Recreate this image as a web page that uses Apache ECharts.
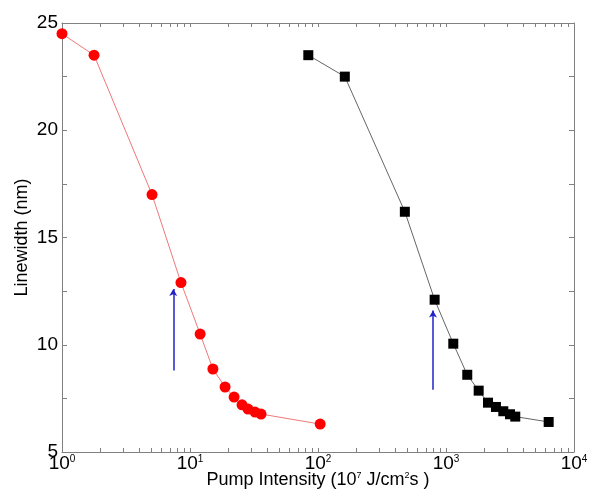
<!DOCTYPE html>
<html><head><meta charset="utf-8">
<script src="https://cdn.jsdelivr.net/npm/echarts@6/dist/echarts.min.js"></script>
<style>html,body{margin:0;padding:0;background:#fff}#c{width:590px;height:494px}</style>
</head><body><div id="c"></div>
<script>
var redX = [1, 1.78, 5.05, 8.5, 12.0, 15.1, 18.8, 22.1, 25.5, 28.4, 32.2, 35.9, 104];
var redY = [24.5, 23.5, 17.0, 12.9, 10.5, 8.87, 8.03, 7.56, 7.2, 7.0, 6.86, 6.77, 6.3];
var blackX = [84, 162, 477, 815, 1140, 1466, 1800, 2128, 2455, 2804, 3162, 3477, 6340];
var blackY = [23.5, 22.5, 16.2, 12.1, 10.05, 8.6, 7.86, 7.3, 7.1, 6.9, 6.76, 6.65, 6.4];
var arrow1 = {x: 7.4, y0: 8.8, y1: 12.6};
var arrow2 = {x: 791, y0: 7.9, y1: 11.6};
var xMajor = [1, 10, 100, 1000, 10000];
var yTicks = [5, 7.5, 10, 12.5, 15, 17.5, 20, 22.5, 25];

var xMinor = [];
for (var k = 0; k < 4; k++) for (var m = 1; m < 10; m++) xMinor.push(m * Math.pow(10, k));
xMinor.push(10000);

function pairs(xs, ys) { return xs.map(function (v, i) { return [v, ys[i]]; }); }
var font = 'Liberation Sans, Arial, Helvetica, sans-serif';
var axisCol = '#808080';

var chart = echarts.init(document.getElementById('c'));
chart.setOption({
  animation: false,
  backgroundColor: '#fff',
  grid: {left: 62, right: 16, top: 23, bottom: 42, containLabel: false, outerBoundsMode: 'none'},
  xAxis: [{
    type: 'log', logBase: 10, min: 1, max: 10000, position: 'bottom',
    axisLine: {show: true, lineStyle: {color: axisCol, width: 1}},
    axisTick: {show: true, inside: true, length: 4, customValues: xMinor, lineStyle: {color: axisCol}},
    minorTick: {show: false},
    splitLine: {show: false},
    axisLabel: {
      customValues: xMajor, margin: 1, color: '#000',
      formatter: function (v) { return '{b|10}{s|' + Math.round(Math.log10(v)) + '}'; },
      rich: {
        b: {fontSize: 19, fontFamily: font, color: '#000', verticalAlign: 'bottom', lineHeight: 20},
        s: {fontSize: 10, fontFamily: font, color: '#000', verticalAlign: 'bottom', lineHeight: 20, padding: [0, 0, 9, 0]}
      }
    },
    name: 'Pump Intensity (10{s|7} J/cm{s|2}s )', nameLocation: 'middle', nameGap: 19,
    nameMoveOverlap: false,
    nameTextStyle: {
      fontSize: 18, fontFamily: font, color: '#000',
      rich: {s: {fontSize: 9, fontFamily: font, color: '#000', padding: [0, 0, 9, 0]}}
    }
  }, {
    type: 'log', logBase: 10, min: 1, max: 10000, position: 'top',
    axisLine: {show: true, lineStyle: {color: axisCol, width: 1}},
    axisTick: {show: true, inside: true, length: 4, customValues: xMinor, lineStyle: {color: axisCol}},
    axisLabel: {show: false}, splitLine: {show: false}
  }],
  yAxis: [{
    type: 'value', min: 5, max: 25, interval: 2.5, position: 'left',
    axisLine: {show: true, lineStyle: {color: axisCol, width: 1}},
    axisTick: {show: true, inside: true, length: 5, lineStyle: {color: axisCol}},
    splitLine: {show: false},
    axisLabel: {
      margin: 4, fontSize: 19, fontFamily: font, color: '#000', padding: [0, 0, 5, 0],
      formatter: function (v) { return v % 5 === 0 ? String(v) : ''; }
    },
    name: 'Linewidth (nm)', nameLocation: 'middle', nameGap: 31,
    nameMoveOverlap: false,
    nameTextStyle: {fontSize: 18, fontFamily: font, color: '#000'}
  }, {
    type: 'value', min: 5, max: 25, interval: 2.5, position: 'right',
    axisLine: {show: true, lineStyle: {color: axisCol, width: 1}},
    axisTick: {show: true, inside: true, length: 5, lineStyle: {color: axisCol}},
    splitLine: {show: false}, axisLabel: {show: false}
  }],
  series: [{
    type: 'line', xAxisIndex: 0, yAxisIndex: 0,
    data: pairs(redX, redY),
    symbol: 'circle', symbolSize: 11,
    itemStyle: {color: '#ff0000'},
    lineStyle: {color: '#f07878', width: 1}
  }, {
    type: 'line', xAxisIndex: 0, yAxisIndex: 0,
    data: pairs(blackX, blackY),
    symbol: 'rect', symbolSize: 10,
    itemStyle: {color: '#000'},
    lineStyle: {color: '#666', width: 1},
    markLine: {
      silent: true, symbol: ['none', 'arrow'], symbolSize: [6, 7],
      label: {show: false},
      lineStyle: {color: '#2323c8', width: 1.5, type: 'solid'},
      data: [
        [{coord: [arrow1.x, arrow1.y0]}, {coord: [arrow1.x, arrow1.y1]}],
        [{coord: [arrow2.x, arrow2.y0]}, {coord: [arrow2.x, arrow2.y1]}]
      ]
    }
  }]
});
</script></body></html>
